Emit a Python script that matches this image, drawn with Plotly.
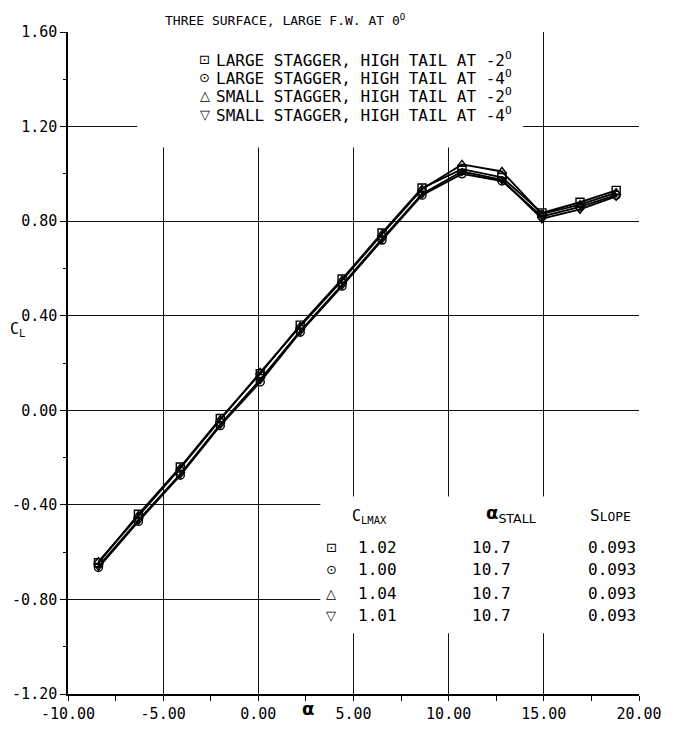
import plotly.graph_objects as go

# ---------------- data ----------------
alpha = [-8.4, -6.3, -4.1, -2.0, 0.1, 2.2, 4.4, 6.5, 8.6, 10.7, 12.8, 14.9, 16.9, 18.8]

cl_large_m2 = [-0.645, -0.44, -0.24, -0.035, 0.155, 0.36, 0.555, 0.75, 0.94, 1.02, 0.985, 0.835, 0.88, 0.93]
cl_large_m4 = [-0.665, -0.47, -0.275, -0.065, 0.12, 0.33, 0.525, 0.72, 0.91, 1.00, 0.97, 0.82, 0.86, 0.91]
cl_small_m2 = [-0.64, -0.445, -0.245, -0.04, 0.16, 0.355, 0.55, 0.745, 0.935, 1.04, 1.01, 0.83, 0.87, 0.92]
cl_small_m4 = [-0.66, -0.465, -0.27, -0.06, 0.13, 0.335, 0.53, 0.725, 0.915, 1.01, 0.975, 0.81, 0.85, 0.905]

series_names = [
    "LARGE STAGGER, HIGH TAIL AT -2",
    "LARGE STAGGER, HIGH TAIL AT -4",
    "SMALL STAGGER, HIGH TAIL AT -2",
    "SMALL STAGGER, HIGH TAIL AT -4",
]
series_glyphs = ["\u22a1", "\u2299", "\u25b3", "\u25bd"]

title_text = "THREE SURFACE, LARGE F.W. AT 0"

x_ticks = [-10, -5, 0, 5, 10, 15, 20]
x_tick_labels = ["-10.00", "-5.00", "0.00", "5.00", "10.00", "15.00", "20.00"]
y_ticks = [-1.2, -0.8, -0.4, 0.0, 0.4, 0.8, 1.2, 1.6]
y_tick_labels = ["-1.20", "-0.80", "-0.40", "0.00", "0.40", "0.80", "1.20", "1.60"]

clmax_vals = ["1.02", "1.00", "1.04", "1.01"]
astall_vals = ["10.7", "10.7", "10.7", "10.7"]
slope_vals = ["0.093", "0.093", "0.093", "0.093"]

# ---------------- figure ----------------
FONT = "DejaVu Sans Mono"
W, H = 674, 735
ML, MR, MT, MB = 67, 30, 32, 26
PW, PH = W - ML - MR, H - MT - MB


def px(xp):
    return (xp - ML) / PW


def py(yp):
    return (H - MB - yp) / PH


symbols = ["square-open-dot", "circle-open-dot", "triangle-up-open", "triangle-down-open-dot"]
series = [cl_large_m2, cl_large_m4, cl_small_m2, cl_small_m4]

fig = go.Figure()
for name, ys, sym in zip(series_names, series, symbols):
    fig.add_trace(go.Scatter(
        x=alpha, y=ys, mode="lines+markers", name=name,
        line=dict(color="black", width=1.9),
        marker=dict(symbol=sym, size=8, color="black", line=dict(color="black", width=1.4)),
        showlegend=False, cliponaxis=False,
    ))

shapes = [
    # blank area behind the legend block
    dict(type="rect", xref="paper", yref="paper", x0=px(137), x1=px(527), y0=py(150), y1=1.06,
         fillcolor="white", line=dict(width=0), layer="above"),
    # blank upper-right corner
    dict(type="rect", xref="paper", yref="paper", x0=px(549.5), x1=1.06, y0=py(127.5), y1=1.06,
         fillcolor="white", line=dict(width=0), layer="above"),
    # blank area behind the stats table
    dict(type="rect", xref="paper", yref="paper", x0=px(322), x1=1.05, y0=py(647), y1=py(507),
         fillcolor="white", line=dict(width=0), layer="above"),
]

ann = []
ann.append(dict(xref="paper", yref="paper", x=px(163), y=py(20), xanchor="left", yanchor="middle",
                text=title_text + "<sup>O</sup>", showarrow=False,
                font=dict(family=FONT, size=13, color="black")))
row_y = [60, 79, 97, 116]
for g, nm, ry in zip(series_glyphs, series_names, row_y):
    ann.append(dict(xref="paper", yref="paper", x=px(205), y=py(ry), xanchor="center", yanchor="middle",
                    text=g, showarrow=False, font=dict(family="DejaVu Sans", size=13, color="black")))
    ann.append(dict(xref="paper", yref="paper", x=px(215), y=py(ry), xanchor="left", yanchor="middle",
                    text=nm + "<sup>O</sup>", showarrow=False,
                    font=dict(family=FONT, size=16, color="black")))

# table header
ann.append(dict(xref="paper", yref="paper", x=px(372), y=py(527), xanchor="center", yanchor="middle",
                text="C<sub>LMAX</sub>", showarrow=False, font=dict(family=FONT, size=15, color="black")))
ann.append(dict(xref="paper", yref="paper", x=px(515), y=py(525), xanchor="center", yanchor="middle",
                text="<b>\u03b1</b><sub>STALL</sub>", showarrow=False,
                font=dict(family="DejaVu Sans", size=18, color="black")))
ann.append(dict(xref="paper", yref="paper", x=px(615), y=py(526), xanchor="center", yanchor="middle",
                text="S<span style='font-size:13px'>LOPE</span>", showarrow=False,
                font=dict(family=FONT, size=16, color="black")))
tab_y = [559, 582, 606, 629]
for g, c, a, s, ry in zip(series_glyphs, clmax_vals, astall_vals, slope_vals, tab_y):
    ann.append(dict(xref="paper", yref="paper", x=px(333), y=py(ry), xanchor="center", yanchor="middle",
                    text=g, showarrow=False, font=dict(family="DejaVu Sans", size=13, color="black")))
    ann.append(dict(xref="paper", yref="paper", x=px(380), y=py(ry), xanchor="center", yanchor="middle",
                    text=c, showarrow=False, font=dict(family=FONT, size=16, color="black")))
    ann.append(dict(xref="paper", yref="paper", x=px(495), y=py(ry), xanchor="center", yanchor="middle",
                    text=a, showarrow=False, font=dict(family=FONT, size=16, color="black")))
    ann.append(dict(xref="paper", yref="paper", x=px(617), y=py(ry), xanchor="center", yanchor="middle",
                    text=s, showarrow=False, font=dict(family=FONT, size=16, color="black")))

# axis titles
ann.append(dict(xref="paper", yref="paper", x=px(310), y=py(724), xanchor="center", yanchor="middle",
                text="<b>\u03b1</b>", showarrow=False, font=dict(family="DejaVu Sans", size=18, color="black")))
ann.append(dict(xref="paper", yref="paper", x=px(16), y=py(336), xanchor="center", yanchor="middle",
                text="C<sub>L</sub>", showarrow=False, font=dict(family=FONT, size=15, color="black")))

fig.update_layout(
    width=W, height=H,
    margin=dict(l=ML, r=MR, t=MT, b=MB, pad=0),
    paper_bgcolor="white", plot_bgcolor="white",
    font=dict(family=FONT, color="black"),
    shapes=shapes, annotations=ann,
    xaxis=dict(
        range=[-10, 20], tickmode="array", tickvals=x_ticks, ticktext=x_tick_labels,
        showgrid=True, gridcolor="#111", gridwidth=1, zeroline=False,
        showline=True, linecolor="black", linewidth=1.5,
        ticks="outside", ticklen=5, tickcolor="black", tickwidth=1.2,
        tickfont=dict(family=FONT, size=15, color="black"),
        minor=dict(dtick=2.5, tick0=-10, ticks="outside", ticklen=5, tickcolor="black", showgrid=False),
    ),
    yaxis=dict(
        range=[-1.2, 1.6], tickmode="array", tickvals=y_ticks, ticktext=y_tick_labels,
        showgrid=True, gridcolor="#111", gridwidth=1, zeroline=False,
        showline=True, linecolor="black", linewidth=1.5,
        ticks="outside", ticklen=6, tickcolor="black", tickwidth=1.2,
        tickfont=dict(family=FONT, size=15, color="black"),
        minor=dict(dtick=0.2, tick0=-1.2, ticks="outside", ticklen=3, tickcolor="black", showgrid=False),
    ),
)

fig.write_html("out.html")
